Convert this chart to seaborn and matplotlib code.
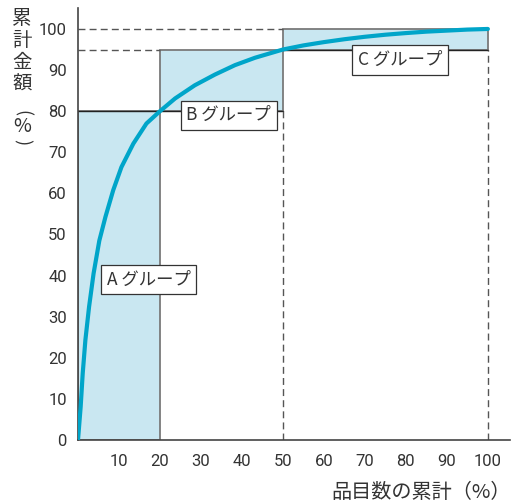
import matplotlib
matplotlib.use("Agg")
import matplotlib.pyplot as plt
import matplotlib.patches as mpatches
import seaborn as sns
import pandas as pd

# cumulative share of items (%) vs cumulative amount (%)
items_pct = [0, 0.65, 1.15, 1.8, 2.7, 3.8, 5.2, 6.7, 8.6, 10.6, 13.5, 16.7, 20,
             23.7, 28.5, 33.4, 38.3, 43.2, 50, 55, 60, 65, 70, 75, 80, 85, 90, 95, 100]
amount_pct = [0, 8.1, 16.2, 24.3, 32.4, 40.5, 48.5, 54.3, 60.8, 66.4, 72.1, 77, 80,
              83.1, 86.3, 88.9, 91.2, 93, 95, 96, 96.8, 97.5, 98.1, 98.6, 99.0, 99.35, 99.6, 99.85, 100]

# group boundaries: (x start, x end), (y start, y end)
group_x = [(0, 20), (20, 50), (50, 100)]
group_y = [(0, 80), (80, 95), (95, 100)]
group_labels = ["A グループ", "B グループ", "C グループ"]
label_pos = [(17.2, 39), (36.8, 79), (78.5, 92.5)]

xticks = [10, 20, 30, 40, 50, 60, 70, 80, 90, 100]
yticks = [0, 10, 20, 30, 40, 50, 60, 70, 80, 90, 100]

sns.set_style("white")
plt.rcParams['font.family'] = ['Roboto', 'Noto Sans CJK JP', 'DejaVu Sans']
jp = ['Noto Sans CJK JP', 'DejaVu Sans']

fig = plt.figure(figsize=(5.12, 5.04), dpi=100)
ax = fig.add_axes([78 / 512, 64 / 504, 432 / 512, 432 / 504])

fill = "#c9e7f1"
edge = "#7a7a7a"
for (x0, x1), (y0, y1) in zip(group_x, group_y):
    ax.add_patch(mpatches.Rectangle((x0, y0), x1 - x0, y1 - y0, facecolor=fill,
                                    edgecolor=edge, linewidth=1.3, zorder=1))

# solid boundary lines
ax.plot([0, 50], [80, 80], color="#222222", lw=1.0, zorder=2)
ax.plot([50, 100], [95, 95], color="#222222", lw=1.0, zorder=2)
# dashed guide lines
dash = dict(color="#555555", lw=1.0, linestyle=(0, (5, 3)), zorder=2)
ax.plot([0, 50], [100, 100], **dash)
ax.plot([0, 20], [95, 95], **dash)
ax.plot([50, 50], [0, 80], **dash)
ax.plot([100, 100], [0, 95], **dash)

df = pd.DataFrame({"x": items_pct, "y": amount_pct})
sns.lineplot(data=df, x="x", y="y", ax=ax, color="#00a5c9", lw=3, zorder=3,
             solid_joinstyle="round", solid_capstyle="round")

for txt, (tx, ty) in zip(group_labels, label_pos):
    ax.text(tx, ty, txt, ha="center", va="center", fontsize=12.5, color="#333333",
            family=jp, zorder=5,
            bbox=dict(boxstyle="square,pad=0.33", facecolor="white", edgecolor="#333333", lw=0.9))

ax.set_xlim(0, 105.4)
ax.set_ylim(0, 105.1)
ax.set_xticks(xticks)
ax.set_yticks(yticks)
ax.tick_params(axis="both", length=0, labelsize=12, labelcolor="#333333")
ax.tick_params(axis="x", pad=10)
ax.tick_params(axis="y", pad=8)
ax.set_xlabel("")
ax.set_ylabel("")
for s in ["top", "right"]:
    ax.spines[s].set_visible(False)
for s in ["left", "bottom"]:
    ax.spines[s].set_color("#444444")
    ax.spines[s].set_linewidth(1.2)

# vertical y label: characters stacked, brackets turned sideways
fig.text(22 / 512, 1 - 8 / 504, "累\n計\n金\n額", ha="center", va="top",
         fontsize=14, color="#333333", linespacing=1.05, family=jp)
fig.text(22 / 512, 1 - 113 / 504, "(", ha="center", va="center", rotation=-90,
         rotation_mode="anchor", fontsize=13, color="#333333", family=jp)
fig.text(22 / 512, 1 - 127 / 504, "%", ha="center", va="center",
         fontsize=14, color="#333333", family=jp)
fig.text(22 / 512, 1 - 142 / 504, ")", ha="center", va="center", rotation=-90,
         rotation_mode="anchor", fontsize=13, color="#333333", family=jp)
fig.text(511 / 512, 1 - 492 / 504, "品目数の累計（%）", ha="right", va="center",
         fontsize=14.5, color="#333333", family=jp)

fig.savefig("out.png", dpi=100)
